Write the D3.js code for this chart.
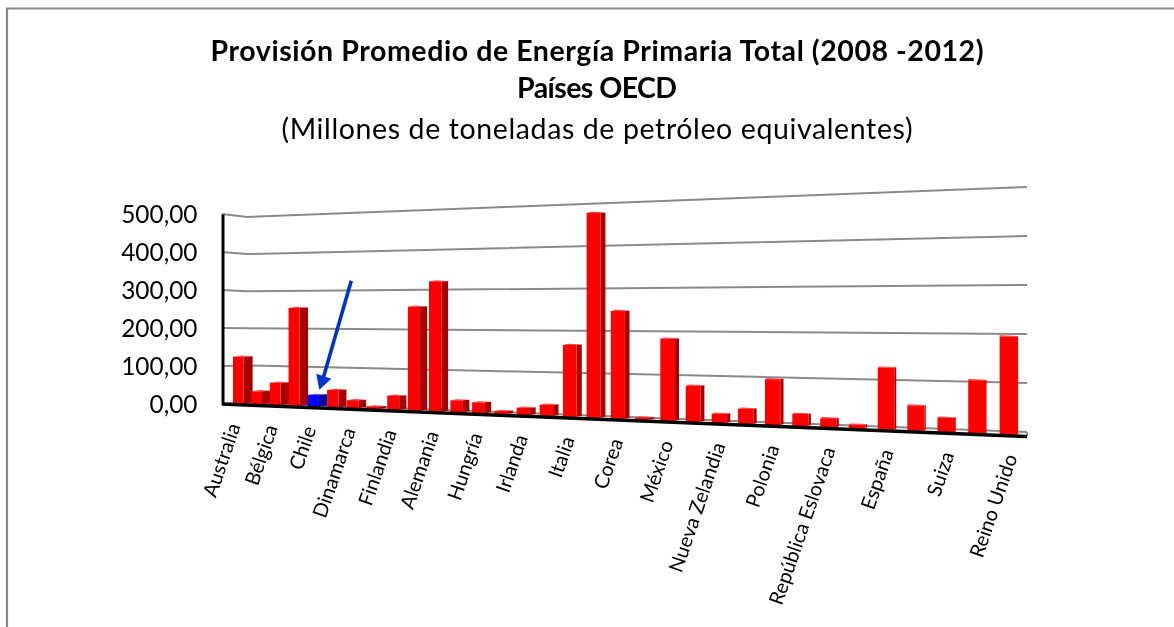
<!DOCTYPE html>
<html>
<head>
<meta charset="utf-8">
<script src="https://cdn.jsdelivr.net/npm/d3@7"></script>
<style>
  html, body { margin: 0; padding: 0; background: #fff; overflow: hidden; }
  svg { display: block; filter: blur(0.45px); }
  text { font-family: Lato, sans-serif; fill: #000; }
</style>
</head>
<body>
<svg id="chart" width="1174" height="627"></svg>
<script>
var countries = [
  "Australia", "Austria", "Bélgica", "Canadá", "Chile", "República Checa", "Dinamarca",
  "Estonia", "Finlandia", "Francia", "Alemania", "Grecia", "Hungría", "Islandia", "Irlanda",
  "Israel", "Italia", "Japón", "Corea", "Luxemburgo", "México", "Holanda", "Nueva Zelandia",
  "Noruega", "Polonia", "Portugal", "República Eslovaca", "Eslovenia", "España", "Suecia",
  "Suiza", "Turquía", "Reino Unido"
];
var supply = [
  124, 34, 58, 253, 30, 44, 20, 6, 35, 256, 318, 29, 26, 7, 17, 26, 167,
  472, 246, 5, 184, 80, 20, 33, 99, 26, 19, 8, 129, 52, 29, 107, 196
];
var yTicks = [0, 100, 200, 300, 400, 500];
var highlight = "Chile";
var titleLines = [
  "Provisión Promedio de Energía Primaria Total (2008 -2012)",
  "Países OECD",
  "(Millones de toneladas de petróleo equivalentes)"
];

var svg = d3.select("#chart");
var esLocale = d3.formatLocale({decimal: ",", thousands: ".", grouping: [3], currency: ["", ""]});

// frame: open on the right, runs off the page
svg.append("path")
  .attr("d", "M7,627V8.5H1174")
  .attr("fill", "none")
  .attr("stroke", "#8a8a8a")
  .attr("stroke-width", 2.2);

// title
var titleY = [61, 98, 139];
var titleWidth = [773, 160, 631];
svg.selectAll(".title")
  .data(titleLines)
  .enter().append("text")
    .attr("class", "title")
    .attr("x", 597)
    .attr("y", function(d, i) { return titleY[i]; })
    .attr("text-anchor", "middle")
    .attr("font-size", "28.5px")
    .attr("font-weight", function(d, i) { return i < 2 ? "bold" : "normal"; })
    .attr("textLength", function(d, i) { return titleWidth[i]; })
    .attr("lengthAdjust", "spacing")
    .text(function(d) { return d; });

// bars live on a floor seen in perspective: band position -> depth -> screen x
var x = d3.scaleBand()
  .domain(countries)
  .range([0, countries.length])
  .paddingInner(0.42)
  .paddingOuter(0.21);

function depth(t) { return 1 - 0.00764 * (t - 0.21); }
function screenX(t) { return 233 + 18.1 * (t - 0.21) / depth(t); }
function floorY(px) { return 403.5 + (px - 233) * 31 / 767; }

var heightScale = d3.scaleLinear().domain([0, 100]).range([0, 37.77]);

// y axis and back wall
var yAxisScale = d3.scaleLinear().domain([0, 500]).range([404, 214]);
var wallLeft = d3.scaleLinear().domain([0, 500]).range([402.5, 217]);
var wallRight = d3.scaleLinear().domain([0, 500]).range([432, 187]);
var wallX = [247, 1027];

svg.append("g")
  .selectAll("path")
  .data(yTicks)
  .enter().append("path")
    .attr("fill", "none")
    .attr("stroke", "#8a8a8a")
    .attr("stroke-width", 2)
    .attr("d", function(v) {
      return d3.line()([
        [222, yAxisScale(v)],
        [wallX[0], wallLeft(v)],
        [wallX[1], wallRight(v)]
      ]);
    });

// bars
var bars = svg.append("g")
  .selectAll("g")
  .data(countries)
  .enter().append("g")
    .attr("class", "bar");

function barShape(name, i) {
  var t = x(name);
  var x0 = screenX(t);
  var x1 = screenX(t + x.bandwidth());
  var base = floorY(x0);
  var h = heightScale(supply[i]) / depth(t);
  var side = Math.max(0, (1012 - x1) * 0.0118);
  return {x0: x0, x1: x1, base: base, top: base - h, side: side};
}
function isHighlight(name) { return name === highlight; }

bars.append("path")
  .attr("fill", function(d) { return isHighlight(d) ? "#0000a8" : "#a80000"; })
  .attr("d", function(d, i) {
    var s = barShape(d, i);
    return d3.line()([[s.x1, s.top], [s.x1 + s.side, s.top - 0.5], [s.x1 + s.side, s.base - 1], [s.x1, s.base]]) + "Z";
  });
bars.append("path")
  .attr("fill", function(d) { return isHighlight(d) ? "#4a4aff" : "#ff4040"; })
  .attr("d", function(d, i) {
    var s = barShape(d, i);
    return d3.line()([[s.x0, s.top], [s.x1, s.top], [s.x1 + s.side, s.top - 0.5], [s.x0 + s.side, s.top - 1.2]]) + "Z";
  });
bars.append("rect")
  .attr("fill", function(d) { return isHighlight(d) ? "#0000ff" : "#ff0000"; })
  .attr("x", function(d, i) { return barShape(d, i).x0; })
  .attr("y", function(d, i) { return barShape(d, i).top; })
  .attr("width", function(d, i) { var s = barShape(d, i); return s.x1 - s.x0; })
  .attr("height", function(d, i) { var s = barShape(d, i); return s.base - s.top; });

// floor front edge and right wall edge
svg.append("path")
  .attr("d", "M1027,432V436")
  .attr("stroke", "#8a8a8a")
  .attr("stroke-width", 2);
svg.append("path")
  .attr("d", d3.line()([[222, 404], [1027, 436.5]]))
  .attr("stroke", "#000")
  .attr("stroke-width", 3.4);

// y axis
svg.append("g")
  .attr("class", "y axis")
  .attr("transform", "translate(222.5,0)")
  .call(d3.axisLeft(yAxisScale).tickValues(yTicks).tickSize(0).tickPadding(25).tickFormat(esLocale.format(".2f")))
  .call(function(g) {
    g.select(".domain").attr("stroke", "#000").attr("stroke-width", 3);
    g.selectAll("text")
      .attr("font-size", "24.4px")
      .attr("font-family", "Lato, sans-serif")
      .attr("y", 1);
  });

// every second country gets a label, as in the original
var labelled = countries.filter(function(d, i) { return i % 2 === 0; });
svg.append("g")
  .selectAll("text")
  .data(labelled)
  .enter().append("text")
    .attr("class", "x-label")
    .attr("font-size", "20px")
    .attr("text-anchor", "end")
    .attr("dy", "0.35em")
    .attr("transform", function(d) {
      var cx = screenX(x(d) + x.bandwidth() / 2);
      // labels drift a little further right along the floor
      var lx = cx - 4 + (cx - 243) * 0.008;
      return "translate(" + lx + "," + (floorY(cx) + 20) + ") rotate(-71)";
    })
    .text(function(d) { return d; });

// arrow pointing at the highlighted bar
var hi = barShape(highlight, countries.indexOf(highlight));
var tip = [(hi.x0 + hi.x1) / 2 + 6, hi.top - 5];
svg.append("path")
  .attr("d", d3.line()([[tip[0] + 32, tip[1] - 109], [tip[0] + 4, tip[1] - 12]]))
  .attr("stroke", "#0033cc")
  .attr("stroke-width", 3.6)
  .attr("fill", "none");
svg.append("path")
  .attr("fill", "#0033cc")
  .attr("d", d3.line()([[tip[0], tip[1]], [tip[0] - 3, tip[1] - 16], [tip[0] + 12, tip[1] - 11]]) + "Z");
</script>
</body>
</html>
